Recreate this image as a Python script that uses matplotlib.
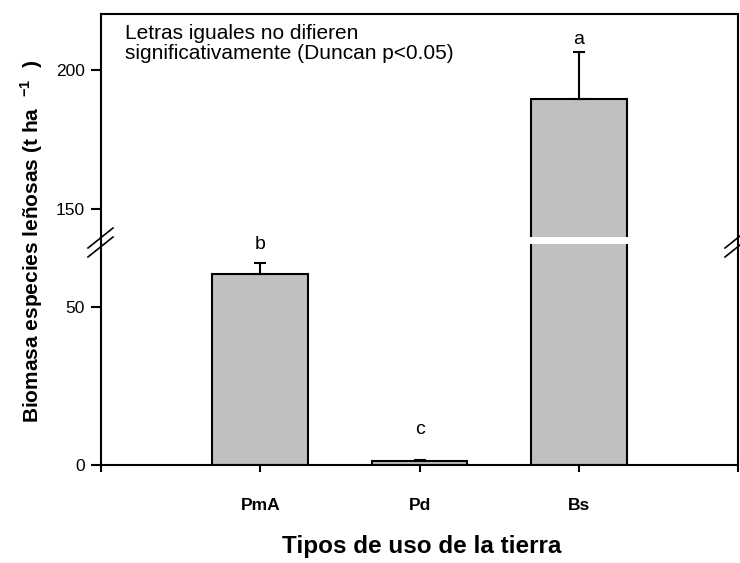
import numpy as np
import matplotlib
matplotlib.use('Agg')
import matplotlib.pyplot as plt
from matplotlib.lines import Line2D

plt.rcParams['font.family'] = ['Liberation Sans', 'DejaVu Sans']
plt.rcParams['mathtext.fontset'] = 'custom'
plt.rcParams['mathtext.rm'] = 'Liberation Sans'
plt.rcParams['mathtext.bf'] = 'Liberation Sans:bold'

# data
categories = ['PmA', 'Pd', 'Bs']
biomasa = [60.5, 1.2, 189.5]
error_sup = [3.5, 0.5, 17.0]
letras = ['b', 'c', 'a']

W, H = 740, 563
fig = plt.figure(figsize=(W / 100, H / 100), dpi=100)

def fx(px):
    return px / W

def fy(py):
    return 1 - py / H

left, right = fx(101), fx(738)
ax_top = fig.add_axes([left, fy(237), right - left, fy(14) - fy(237)])
ax_bot = fig.add_axes([left, fy(465), right - left, fy(244) - fy(465)])

x = np.arange(1, len(categories) + 1)
lw = 1.5
for ax in (ax_top, ax_bot):
    ax.bar(x, biomasa, width=0.6, color='#c0c0c0', edgecolor='black', linewidth=lw)
    ax.errorbar(x, biomasa, yerr=[np.zeros(len(x)), error_sup], fmt='none',
                ecolor='black', elinewidth=lw, capsize=4.5, capthick=lw)
    ax.set_xlim(0, 4)
    for s in ax.spines.values():
        s.set_linewidth(lw)
    ax.tick_params(axis='y', direction='out', length=7.5, width=lw, labelsize=12.5, pad=4)

ax_top.set_ylim(140, 220)
ax_bot.set_ylim(0, 70)
ax_top.set_yticks([150, 200])
ax_bot.set_yticks([0, 50])

ax_top.spines['bottom'].set_visible(False)
ax_bot.spines['top'].set_visible(False)
ax_top.tick_params(axis='x', bottom=False, labelbottom=False)
ax_bot.set_xticks([0, 1, 2, 3, 4])
ax_bot.set_xticklabels([''] + categories + [''], fontweight='bold', fontsize=12.5)
ax_bot.tick_params(axis='x', direction='out', length=5, width=lw, pad=18.5)

# significance letters, gap above the error bar in pixels
letter_gap = [10, 22, 4]
for xi, v, e, l, g in zip(x, biomasa, error_sup, letras, letter_gap):
    ax = ax_top if v > 140 else ax_bot
    ppu = 223 / 80 if ax is ax_top else 221 / 70
    ax.text(xi, v + e + g / ppu, l, ha='center', va='bottom', fontsize=14)

# continuous spines across the break
for xp in (left, right):
    fig.add_artist(Line2D([xp, xp], [fy(237), fy(244)], color='black', lw=lw,
                          transform=fig.transFigure))

# break marks
for xc in (101, 738):
    for dy in (0, 9):
        fig.add_artist(Line2D([fx(xc - 13), fx(xc + 12)],
                              [fy(248 + dy), fy(228 + dy)], color='black', lw=1.2,
                              transform=fig.transFigure))

ax_top.text(0.15, 216.5, 'Letras iguales no difieren\nsignificativamente (Duncan p<0.05)',
            ha='left', va='top', fontsize=15, linespacing=1.05)

fig.text(fx(32), fy(241), r'Biomasa especies leñosas (t ha  $^{\mathbf{-1}}$  )',
         rotation=90, ha='center', va='center', fontsize=15, fontweight='bold')
fig.text(fx(422), fy(546), 'Tipos de uso de la tierra', ha='center', va='center',
         fontsize=17.5, fontweight='bold')

fig.savefig('out.png', dpi=100)
